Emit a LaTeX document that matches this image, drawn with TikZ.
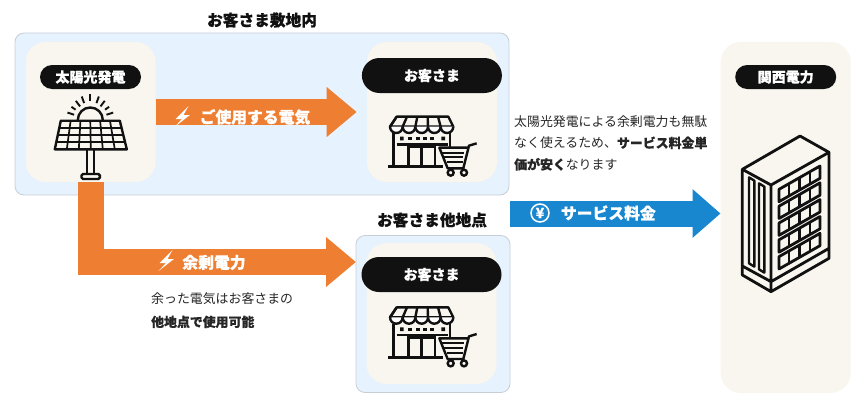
\documentclass[tikz,border=0pt]{standalone}
\usepackage{fontspec}
\setmainfont{Noto Sans CJK JP}[BoldFeatures={FakeBold=0.5}]
\usetikzlibrary{arrows.meta,positioning}
\definecolor{zonefill}{HTML}{E6F2FD}
\definecolor{zoneline}{HTML}{C8CED6}
\definecolor{cardfill}{HTML}{F9F6EF}
\definecolor{inkdark}{HTML}{111111}
\definecolor{feedorange}{HTML}{EE7F32}
\definecolor{feeblue}{HTML}{1987D0}
\tikzset{
   zone/.style={draw=zoneline,line width=.8pt,fill=zonefill,rounded corners=9pt,inner sep=0pt},
   card/.style={fill=cardfill,rounded corners=20pt,minimum width=130pt,inner sep=0pt},
   pill/.style={fill=inkdark,text=white,rounded corners=#1,inner sep=0pt,font=\fontsize{14}{14}\selectfont\bfseries},
   heading/.style={text=inkdark,inner sep=0pt,font=\fontsize{15.7}{16}\selectfont\bfseries},
   flowtext/.style={text=white,inner sep=0pt,font=\fontsize{15.8}{16}\selectfont\bfseries},
   bodytext/.style={text=black!85,inner sep=0pt,align=left,font=\fontsize{12.9}{#1}\selectfont},
   powerflow/.style={draw=feedorange,line width=26pt,-{Triangle[length=30pt,width=48pt]}},
   feeflow/.style={draw=feeblue,line width=26pt,-{Triangle[length=28pt,width=47pt]}},
   icon/.style={draw=inkdark,line width=2.4pt},
   bolt/.pic={\fill[white] (5.5,-12) -- (-7.5,1) -- (-1,1) -- (-8.5,9) -- (7,-3) -- (.5,-3) -- cycle;},
   solar/.pic={
      \foreach \ang/\rin/\rout in {18/17/24,35/18/23,53/17/24,70/18/25,90/19/26,110/18/25,127/17/24,145/18/23,162/17/24}
         \draw[icon,line width=1.9pt] (-\ang:\rin) -- (-\ang:\rout);
      \draw[icon] (-12.5,0) arc[start angle=180,end angle=360,radius=12.5];
      \draw[icon,line join=round] (-29.5,.7) -- (29.5,.7) -- (36.5,29.3) -- (-35.5,29.3) -- cycle;
      \foreach \k in {1,...,5}
         \draw[icon,line width=1.7pt] (-29.5+59*\k/6,.7) -- (-35.5+72*\k/6,29.3);
      \foreach \k in {1,2,3}
         \draw[icon,line width=1.7pt] (-29.5-6*\k/4,.7+28.6*\k/4) -- (29.5+7*\k/4,.7+28.6*\k/4);
      \draw[icon] (-3.6,30) -- (-3.6,54) (3.6,30) -- (3.6,54);
      \draw[icon,rounded corners=1.5pt] (-8.8,54) rectangle (9.6,59);
   },
   shop/.pic={
      \draw[icon,line join=round] (50,35) -- (205,35) -- (220,65) -- (30,65) -- cycle;
      \foreach \k in {0,...,4}{
         \draw[icon,fill=white] (30+38*\k,65) arc[start angle=180,end angle=0,radius=19];
         \draw[icon] (50+31*\k,35) -- (30+38*\k,65);
      }
      \draw[icon] (40,84) -- (40,185) (210,84) -- (210,125) (50,118) -- (205,118);
      \fill[inkdark] (60,95) rectangle (71,106) (184,95) rectangle (195,106);
      \foreach \k in {0,...,3}
         \fill[inkdark] (85+22*\k,96) rectangle (97+22*\k,106);
      \draw[icon] (85,185) -- (85,125) -- (165,125) -- (165,185) (125,125) -- (125,185);
      \draw[icon,line width=2.8pt] (25,185) -- (190,185);
      \draw[icon,line join=round] (290,115) -- (267,122) -- (250,190) -- (203,190) -- (178,128) -- (262,128);
      \foreach \row/\half in {143/12,157/9,171/6}
         \draw[icon,line width=2pt] (220-3*\half,\row) -- (258-.05*\row,\row);
      \draw[icon] (212,203) circle[radius=9] (252,203) circle[radius=9];
   },
   plant/.pic={
      \draw[icon,line width=2.8pt,line join=round] (97,418) -- (270,318) -- (357,367) -- (183,465) -- cycle
         (97,418) -- (97,735) -- (183,785) -- (357,685) -- (357,367)
         (183,465) -- (183,785)
         (97,708) -- (183,755) -- (357,655);
      \foreach \dx in {0,30}
         \draw[icon,line join=round] (117+\dx,442+\dx*.6) -- (133+\dx,452+\dx*.6) -- (133+\dx,710+\dx*.6) -- (117+\dx,700+\dx*.6) -- cycle;
      \foreach \row in {0,...,4}{
         \draw[icon,line width=2.8pt,line join=round] (207,478+50.5*\row) -- (330,408+50.5*\row) -- (330,445+50.5*\row) -- (207,515+50.5*\row) -- cycle;
         \foreach \k in {1,2,3}
            \draw[icon,line width=2.2pt] (207+30.75*\k,478+50.5*\row-17.5*\k) -- +(0,37);
      }
   }
}

\begin{document}
\begin{tikzpicture}[x=1pt,y=-1pt]
   \useasboundingbox (0,0) rectangle (866,404);
   \node[zone,minimum width=494pt,minimum height=162pt] (sitezone) at (262,114) {};
   \node[zone,minimum width=154pt,minimum height=157pt] (otherzone) at (433,314) {};
   \node[card,minimum height=140pt] (solarcard) at (90.5,112) {};
   \node[card,minimum height=140pt] (shopcarda) [right=211pt of solarcard] {};
   \node[card,minimum height=141pt] (shopcardb) at (431.5,313.5) {};
   \node[card,minimum height=351pt] (kansaicard) at (785.7,217.5) {};

   \node[heading] (sitetitle) at (262,20) {お客さま敷地内};
   \node[heading] (othertitle) at (432,220) {お客さま他地点};

   \coordinate (surplusin) at (356,262);
   \coordinate (feeout) at (510,213.5);
   \draw[powerflow] (solarcard.east) -- ([xshift=-10pt]shopcarda.west);
   \draw[powerflow] (solarcard.south) |- (surplusin);
   \draw[feeflow] (feeout) -- (feeout -| kansaicard.west);

   \pic at (183,118) {bolt};
   \node[flowtext] (selflabel) at (255,117) {ご使用する電気};
   \pic at (167,262) {bolt};
   \node[flowtext] (surpluslabel) at (214,262.5) {余剰電力};
   \node[circle,draw=white,line width=1.5pt,text=white,inner sep=0pt,minimum size=18pt,font=\fontsize{14}{14}\selectfont\bfseries] (yenmark) at (540,213) {¥};
   \node[flowtext] (feelabel) [right=11pt of yenmark] {サービス料金};

   \node[pill=12pt,minimum width=101pt,minimum height=24pt] (solarpill) [below=23pt of solarcard.north] {太陽光発電};
   \node[pill=17.5pt,minimum width=140pt,minimum height=35pt] (shoppilla) [below=16pt of shopcarda.north] {お客さま};
   \node[pill=17.5pt,minimum width=140pt,minimum height=35pt] (shoppillb) [below=14pt of shopcardb.north] {お客さま};
   \node[pill=12pt,minimum width=101pt,minimum height=24pt] (kansaipill) [below=23pt of kansaicard.north] {関西電力};

   \pic at (90.3,120) {solar};
   \pic[scale=1/3] at (380,105) {shop};
   \pic[scale=1/3] at (380,295.7) {shop};
   \pic[scale=1/3] at (710,30) {plant};

   \node[bodytext=21.5pt,anchor=west] (savingnote) at (514,143) {太陽光発電による余剰電力も無駄\\なく使えるため、{\bfseries サービス料金単}\\{\bfseries 価が安く}なります};
   \node[bodytext=23pt,anchor=west] (surplusnote) at (151,310.5) {余った電気はお客さまの\\{\bfseries 他地点で使用可能}};
\end{tikzpicture}
\end{document}
